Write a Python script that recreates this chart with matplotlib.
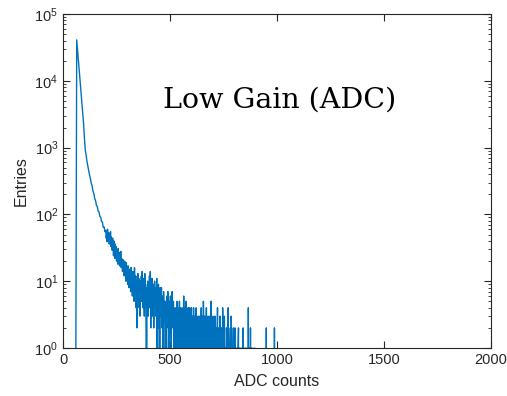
import numpy as np
import matplotlib
matplotlib.use("Agg")
import matplotlib.pyplot as plt
from matplotlib.ticker import LogLocator, NullFormatter

plt.rcParams['font.family'] = ['Liberation Sans', 'DejaVu Sans']
plt.rcParams['mathtext.fontset'] = 'custom'
plt.rcParams['mathtext.rm'] = 'Liberation Sans'
plt.rcParams['mathtext.it'] = 'Liberation Sans:italic'

# Peak-Bereich: Bins mit Breite 4 ADC, 0 .. 196
peak_width = 4
peak_counts = [
    0, 0, 0, 0, 0, 0, 0, 0, 0, 0,                              # 0-36
    0, 0, 0, 0, 0, 1, 41000, 29000, 20500, 14000,              # 40-76
    9800, 6900, 4700, 3250, 2300, 1400, 920, 770, 620, 530,    # 80-116
    452, 388, 343, 292, 266, 224, 205, 174, 161, 137,          # 120-156
    131, 113, 109, 94, 91, 78, 77, 64, 65, 55,                 # 160-196
]

# Auslaeufer: Bins mit Breite 2 ADC, 200 .. 1000
tail_start = 200
tail_width = 2
tail_counts = [
    58, 44, 51, 39, 60, 47, 42, 53, 36, 49, 41, 55, 33, 46, 38, 29, 44, 35, 24, 40,  # 200
    31, 22, 36, 27, 33, 20, 29, 25, 18, 31, 23, 27, 17, 24, 21, 28, 16, 22, 19, 14,  # 240
    21, 15, 18, 12, 20, 13, 16, 10, 19, 11, 14, 9, 17, 12, 8, 15, 10, 13, 7, 16,     # 280
    9, 12, 6, 14, 8, 11, 5, 16, 9, 7, 12, 4, 10, 2, 8, 13, 6, 11, 4, 9,              # 320
    3, 10, 7, 12, 5, 14, 8, 4, 11, 6, 3, 13, 7, 9, 2, 0, 8, 5, 10, 3,                # 360
    9, 6, 12, 4, 14, 2, 8, 5, 11, 3, 7, 9, 2, 6, 10, 4, 8, 3, 6, 11,                 # 400
    0, 7, 4, 9, 2, 6, 0, 8, 3, 5, 8, 2, 6, 4, 1, 7, 3, 5, 2, 0,                      # 440
    5, 2, 1, 6, 3, 7, 2, 4, 1, 5, 3, 6, 2, 1, 4, 7, 3, 2, 5, 1,                      # 480
    3, 1, 4, 2, 1, 3, 5, 2, 4, 1, 3, 2, 5, 1, 4, 2, 3, 1, 4, 2,                      # 520
    3, 1, 6, 2, 4, 1, 3, 5, 2, 4, 1, 3, 2, 4, 1, 2, 4, 1, 3, 2,                      # 560
    4, 1, 2, 3, 1, 4, 2, 1, 3, 2, 1, 4, 2, 3, 1, 2, 1, 3, 2, 1,                      # 600
    3, 1, 2, 4, 1, 2, 3, 1, 5, 2, 1, 3, 2, 1, 2, 4, 1, 2, 1, 3,                      # 640
    1, 2, 1, 3, 1, 2, 5, 1, 2, 1, 3, 1, 2, 1, 0, 3, 1, 0, 2, 1,                      # 680
    1, 4, 0, 1, 2, 0, 1, 3, 0, 1, 2, 1, 0, 4, 1, 0, 1, 3, 1, 0,                      # 720
    1, 0, 2, 1, 0, 1, 4, 0, 1, 0, 1, 2, 0, 3, 1, 0, 1, 0, 2, 0,                      # 760
    1, 0, 2, 0, 1, 0, 0, 1, 0, 1, 2, 0, 0, 1, 0, 0, 1, 0, 0, 1,                      # 800
    0, 2, 0, 1, 0, 0, 1, 0, 0, 1, 0, 0, 0, 4, 0, 1, 0, 0, 2, 0,                      # 840
    1, 0, 0, 0, 1, 0, 0, 0, 1, 0, 0, 0, 0, 0, 0, 0, 0, 0, 0, 0,                      # 880
    0, 0, 0, 0, 0, 0, 0, 0, 0, 0, 0, 0, 0, 0, 0, 2, 0, 0, 0, 0,                      # 920
    0, 0, 0, 0, 0, 0, 0, 0, 0, 0, 0, 0, 0, 0, 2, 0, 0, 0, 0, 0,                      # 960
    0,                                                                               # 1000
]

adc = np.concatenate([np.arange(len(peak_counts)) * peak_width,
                      tail_start + np.arange(len(tail_counts)) * tail_width])
counts = np.array(peak_counts + tail_counts, dtype=float)

fig = plt.figure(figsize=(5.07, 3.96), dpi=100)
ax = fig.add_axes([0.1243, 0.1212, 0.8441, 0.8434])

ax.plot(adc, counts, color='#0072BD', linewidth=1.0)
ax.set_yscale('log', nonpositive='clip')
ax.set_xlim(0, 2000)
ax.set_ylim(1, 1e5)
ax.set_xticks([0, 500, 1000, 1500, 2000])
ax.yaxis.set_major_locator(LogLocator(base=10, numticks=10))
ax.yaxis.set_minor_locator(LogLocator(base=10, subs=np.arange(2, 10), numticks=20))
ax.yaxis.set_minor_formatter(NullFormatter())

grau = '#262626'
for s in ax.spines.values():
    s.set_color(grau)
    s.set_linewidth(0.8)
ax.tick_params(which='both', direction='in', top=True, right=True,
               colors=grau, labelsize=10.5, labelcolor=grau)
ax.tick_params(which='major', length=5, width=0.8)
ax.tick_params(which='minor', length=2.5, width=0.6)

ax.set_xlabel('ADC counts', fontsize=11.5, color=grau, labelpad=5)
ax.set_ylabel('Entries', fontsize=11.5, color=grau)

ax.text(0.507, 0.742, 'Low Gain (ADC)', transform=ax.transAxes,
        ha='center', va='center', fontsize=20.5, family='DejaVu Serif')

fig.savefig('out.png', dpi=100)
